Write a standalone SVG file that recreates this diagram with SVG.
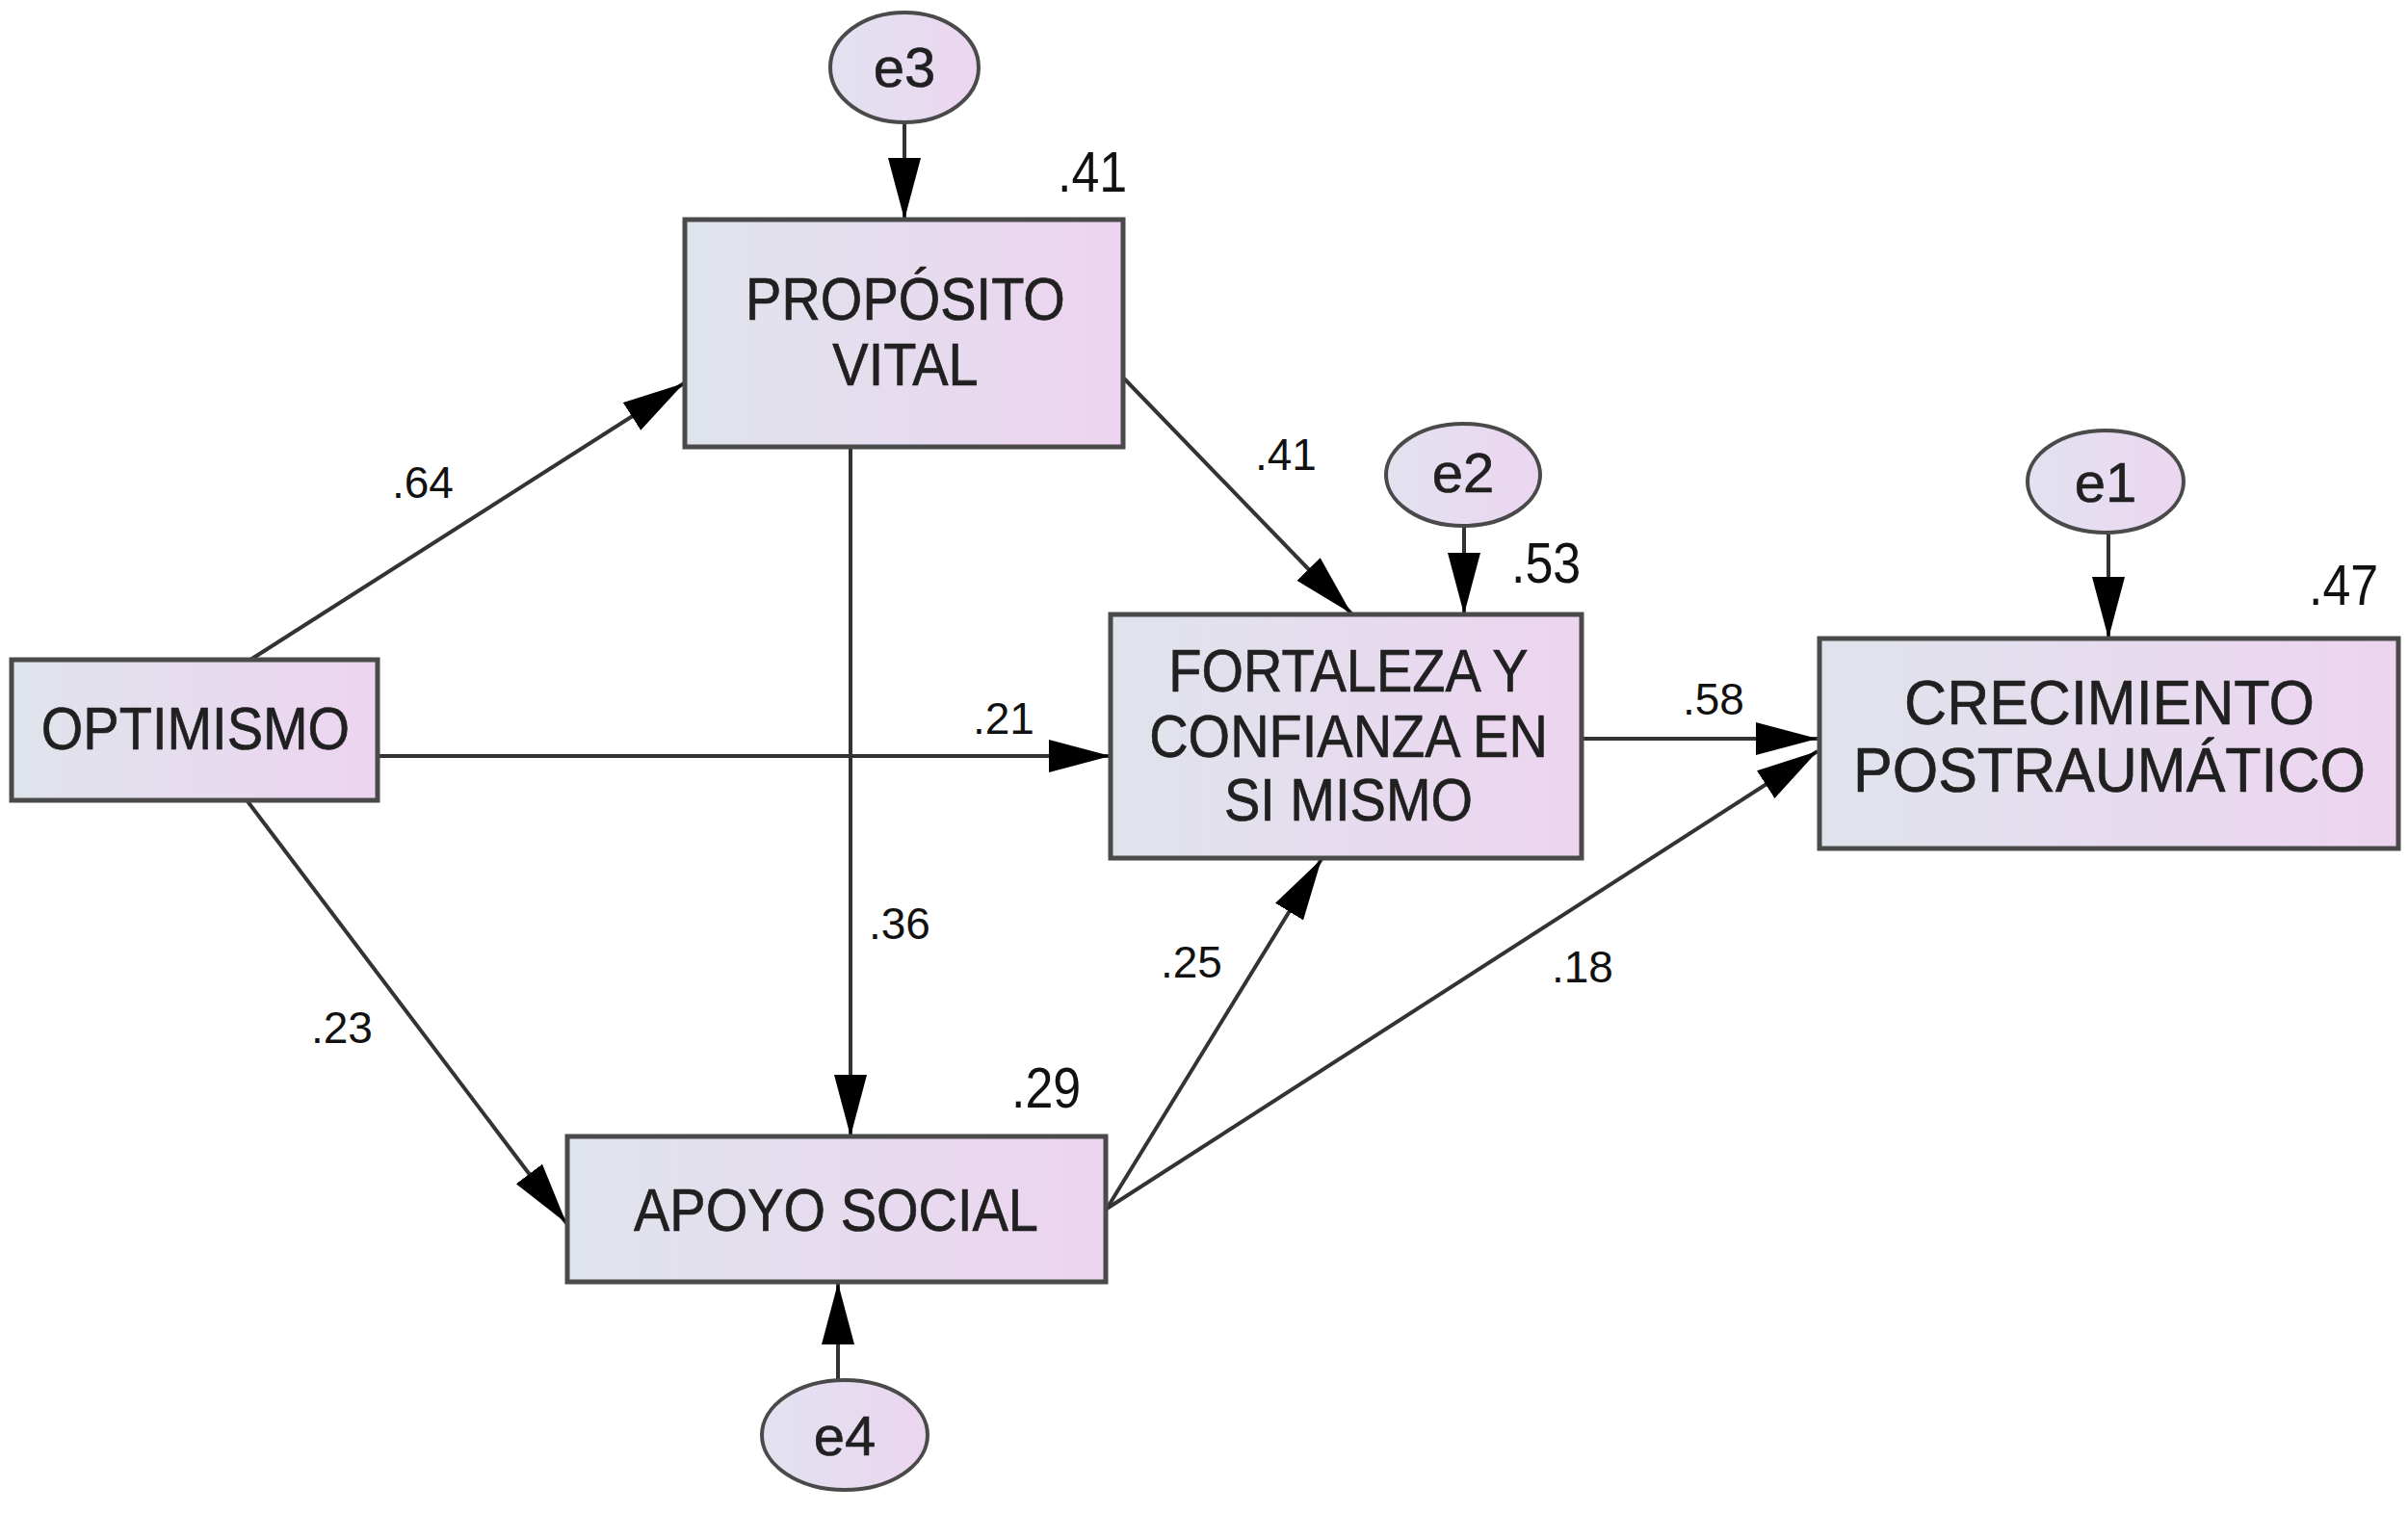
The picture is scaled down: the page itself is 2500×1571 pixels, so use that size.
<svg xmlns="http://www.w3.org/2000/svg" width="2500" height="1571" viewBox="0 0 2500 1571">
<style>
.box{stroke:#4a4a4a;stroke-width:5;fill:url(#gb)}
.err{stroke:#4a4a4a;stroke-width:4;fill:url(#ge)}
.lbl{font-family:"Liberation Sans",Arial,sans-serif;fill:#202020;stroke:#202020;stroke-width:0.6;text-anchor:middle}
.pc{font-family:"Liberation Sans",Arial,sans-serif;font-size:46px;fill:#111}
.r2{font-family:"Liberation Sans",Arial,sans-serif;font-size:52px;fill:#111}
.edge{stroke:#333;stroke-width:4;fill:none;marker-end:url(#ah)}
</style>
<defs>
<linearGradient id="gb" x1="0" y1="0" x2="1" y2="0">
<stop offset="0" stop-color="#dfe4ec"/>
<stop offset="1" stop-color="#edd4f0"/>
</linearGradient>
<linearGradient id="ge" x1="0" y1="0" x2="1" y2="0">
<stop offset="0" stop-color="#e2e2f0"/>
<stop offset="1" stop-color="#ecd6f0"/>
</linearGradient>
<marker id="ah" markerUnits="userSpaceOnUse" markerWidth="66" markerHeight="36" refX="64" refY="17" orient="auto">
<path d="M0,0 L64,17 L0,34 Z" fill="#000"/>
</marker>
</defs>
<rect width="2500" height="1571" fill="#fff"/>

<g id="connectors">
<line class="edge" x1="260" y1="685" x2="710" y2="398"/>
<line class="edge" x1="392" y1="785" x2="1153" y2="785"/>
<line class="edge" x1="257" y1="832" x2="588" y2="1270"/>
<line class="edge" x1="883" y1="465" x2="883" y2="1180"/>
<line class="edge" x1="1167" y1="393" x2="1403" y2="637"/>
<line class="edge" x1="1149" y1="1255" x2="1372" y2="892"/>
<line class="edge" x1="1149" y1="1255" x2="1887" y2="780"/>
<line class="edge" x1="1642" y1="767" x2="1887" y2="767"/>
<line class="edge" x1="939" y1="127" x2="939" y2="228"/>
<line class="edge" x1="1520" y1="545" x2="1520" y2="638"/>
<line class="edge" x1="2189" y1="553" x2="2189" y2="663"/>
<line class="edge" x1="870" y1="1433" x2="870" y2="1332"/>
</g>

<g id="coefficients">
<text class="pc" x="407" y="517">.64</text>
<text class="pc" x="1303" y="488">.41</text>
<text class="pc" x="1010" y="762">.21</text>
<text class="pc" x="902" y="975">.36</text>
<text class="pc" x="323" y="1083">.23</text>
<text class="pc" x="1747" y="742">.58</text>
<text class="pc" x="1205" y="1015">.25</text>
<text class="pc" x="1611" y="1020">.18</text>
</g>

<g id="optimismo">
<rect class="box" x="12" y="685" width="380" height="146"/>
<text class="lbl" font-size="56" transform="translate(203,778) scale(1,1.12)">OPTIMISMO</text>
</g>

<g id="proposito">
<rect class="box" x="711" y="228" width="455" height="236"/>
<text class="lbl" font-size="56" transform="translate(940,332) scale(1,1.12)">PROPÓSITO</text>
<text class="lbl" font-size="56" transform="translate(940,400) scale(1,1.12)">VITAL</text>
<text class="r2" transform="translate(1098,199) scale(1,1.15)">.41</text>
</g>

<g id="fortaleza">
<rect class="box" x="1153" y="638" width="489" height="253"/>
<text class="lbl" font-size="56" transform="translate(1400,718) scale(1,1.12)">FORTALEZA Y</text>
<text class="lbl" font-size="56" transform="translate(1400,786) scale(1,1.12)">CONFIANZA EN</text>
<text class="lbl" font-size="56" transform="translate(1400,852) scale(1,1.12)">SI MISMO</text>
<text class="r2" transform="translate(1569,605) scale(1,1.15)">.53</text>
</g>

<g id="crecimiento">
<rect class="box" x="1889" y="663" width="601" height="218"/>
<text class="lbl" font-size="61" transform="translate(2190,752) scale(1,1.07)">CRECIMIENTO</text>
<text class="lbl" font-size="61" transform="translate(2190,822) scale(1,1.07)">POSTRAUMÁTICO</text>
<text class="r2" transform="translate(2397,628) scale(1,1.15)">.47</text>
</g>

<g id="apoyo">
<rect class="box" x="589" y="1180" width="559" height="151"/>
<text class="lbl" font-size="56" transform="translate(868,1278) scale(1,1.12)">APOYO SOCIAL</text>
<text class="r2" transform="translate(1050,1150) scale(1,1.15)">.29</text>
</g>

<g id="e3">
<ellipse class="err" cx="939" cy="70" rx="77" ry="57"/>
<text class="lbl" font-size="58" x="939" y="90">e3</text>
</g>
<g id="e2">
<ellipse class="err" cx="1519" cy="493" rx="80" ry="53"/>
<text class="lbl" font-size="58" x="1519" y="511">e2</text>
</g>
<g id="e1">
<ellipse class="err" cx="2186" cy="500" rx="81" ry="53"/>
<text class="lbl" font-size="58" x="2186" y="521">e1</text>
</g>
<g id="e4">
<ellipse class="err" cx="877" cy="1490" rx="86" ry="57"/>
<text class="lbl" font-size="58" x="877" y="1511">e4</text>
</g>
</svg>
